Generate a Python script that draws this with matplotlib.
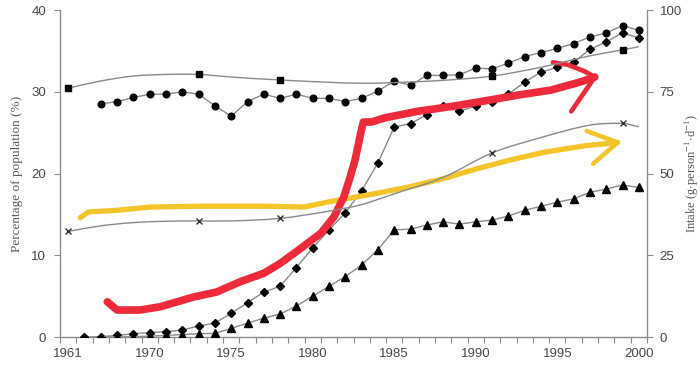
import numpy as np
import matplotlib
matplotlib.use("Agg")
import matplotlib.pyplot as plt
from matplotlib.path import Path
from matplotlib.patches import PathPatch

plt.rcParams['font.family'] = ['Liberation Sans', 'DejaVu Sans']
plt.rcParams['mathtext.fontset'] = 'stix'

# categories on the x axis (first category 1961, then yearly from 1966)
years = [1961] + list(range(1966, 2001))
label_years = [1961, 1970, 1975, 1980, 1985, 1990, 1995, 2000]

nan = np.nan
# percentage of population (left axis)
circle_vals = [nan, nan, 28.5, 28.8, 29.3, 29.7, 29.7, 30.0, 29.7, 28.3, 27.0, 28.8,
               29.7, 29.2, 29.7, 29.2, 29.2, 28.8, 29.2, 30.1, 31.3, 30.8, 32.0, 32.0,
               32.1, 32.9, 32.8, 33.5, 34.3, 34.8, 35.3, 35.9, 36.7, 37.2, 38.1, 37.5]
diamond_vals = [nan, 0.0, 0.05, 0.2, 0.4, 0.55, 0.65, 0.85, 1.35, 1.7, 2.9, 4.2,
                5.5, 6.2, 8.5, 10.9, 13.1, 15.2, 17.9, 21.3, 25.7, 26.1, 27.2, 28.2,
                27.6, 28.3, 28.8, 29.7, 31.2, 32.4, 33.0, 33.6, 35.2, 36.1, 37.2, 36.6]
triangle_vals = [nan, nan, 0.0, 0.0, 0.05, 0.1, 0.2, 0.3, 0.4, 0.45, 1.05, 1.7,
                 2.3, 2.8, 3.8, 5.0, 6.2, 7.4, 8.8, 10.7, 13.1, 13.2, 13.7, 14.1,
                 13.8, 14.1, 14.3, 14.8, 15.5, 16.0, 16.5, 16.9, 17.7, 18.1, 18.6, 18.3]

# intake (right axis), smoothed lines read at these years
intake_years = [1961, 1967, 1969, 1971, 1973, 1975, 1978, 1981, 1983, 1985, 1988,
                1991, 1994, 1997, 1999, 2000]
square_vals = [76.1, 78.3, 79.8, 80.3, 80.3, 79.5, 78.6, 77.9, 77.6, 77.8, 78.5,
               79.8, 82.5, 86.0, 87.8, 88.8]
cross_vals = [32.3, 34.0, 35.0, 35.4, 35.5, 35.5, 36.3, 38.5, 40.5, 43.8, 48.8,
              56.3, 61.0, 64.8, 65.3, 64.3]
survey_years = [1961, 1973, 1978, 1991, 1999]

# hand-drawn annotations (x in category index, y in left-axis units)
red_x = [2.4, 3.0, 4.4, 5.65, 7.7, 9.1, 10.6, 12.0, 13.0, 14.1, 15.5, 16.3, 16.9,
         17.3, 17.6, 17.95, 18.1, 18.6, 19.4, 21.4, 23.5, 25.9, 27.6, 29.6, 31.5, 32.3]
red_y = [4.3, 3.3, 3.3, 3.7, 4.9, 5.5, 6.8, 7.8, 9.0, 10.6, 12.7, 14.7, 17.1,
         19.6, 21.7, 25.0, 26.3, 26.3, 26.8, 27.6, 28.2, 29.0, 29.6, 30.2, 31.25, 31.8]
red_head_x = [29.73, 30.65, 31.67, 32.3, 30.85]
red_head_y = [33.6, 33.3, 32.5, 31.8, 27.6]
yellow_x = [0.74, 1.25, 3.0, 5.05, 8.1, 12.2, 14.45, 15.9, 17.3, 19.0, 21.0, 23.05,
            25.1, 27.2, 29.2, 31.7, 33.7]
yellow_y = [14.6, 15.3, 15.5, 15.9, 16.0, 16.0, 15.9, 16.5, 17.0, 17.6, 18.4, 19.4,
            20.6, 21.7, 22.6, 23.4, 23.8]
yellow_head_x = [31.8, 33.7, 32.2]
yellow_head_y = [25.2, 23.8, 21.2]

pos = np.arange(len(years))
line_col = '#8a8a8a'
axis_col = '#8c8c8c'
text_col = '#474747'


def smooth_path(xs, ys):
    # cardinal spline y(x) drawn as cubic Bezier segments
    xs = np.asarray(xs, float)
    ys = np.asarray(ys, float)
    n = len(xs)
    d = np.empty(n)
    d[0] = (ys[1] - ys[0]) / (xs[1] - xs[0])
    d[-1] = (ys[-1] - ys[-2]) / (xs[-1] - xs[-2])
    d[1:-1] = (ys[2:] - ys[:-2]) / (xs[2:] - xs[:-2])
    verts = [(xs[0], ys[0])]
    codes = [Path.MOVETO]
    for i in range(n - 1):
        h = (xs[i + 1] - xs[i]) / 3.0
        verts += [(xs[i] + h, ys[i] + d[i] * h),
                  (xs[i + 1] - h, ys[i + 1] - d[i + 1] * h),
                  (xs[i + 1], ys[i + 1])]
        codes += [Path.CURVE4] * 3
    return Path(verts, codes)


fig = plt.figure(figsize=(7.0, 3.67), dpi=100)
ax = fig.add_axes([0.0857, 0.0817, 0.8386, 0.891])
ax2 = ax.twinx()

ax.plot(pos, circle_vals, color=line_col, lw=1.0, marker='o', ms=4.8,
        mfc='black', mec='black', zorder=3)
ax.plot(pos, diamond_vals, color=line_col, lw=1.0, marker='D', ms=4.0,
        mfc='black', mec='black', zorder=3)
ax.plot(pos, triangle_vals, color=line_col, lw=1.0, marker='^', ms=5.2,
        mfc='black', mec='black', zorder=3)

ix = [years.index(y) for y in intake_years]
mark = [intake_years.index(y) for y in survey_years]
for vals, mk in [(square_vals, 's'), (cross_vals, 'x')]:
    ax2.add_patch(PathPatch(smooth_path(ix, vals), fill=False, ec=line_col, lw=1.0,
                            zorder=3))
    ax2.plot([ix[i] for i in mark], [vals[i] for i in mark], ls='none', marker=mk,
             ms=5.0, mfc='black', mec='#333333' if mk == 'x' else 'black', mew=1.0,
             zorder=4)

red = '#ee2a3b'
yellow = '#f5c32a'
ax.plot(yellow_x, yellow_y, color=yellow, lw=3.8, solid_capstyle='round',
        solid_joinstyle='round', zorder=5)
ax.plot(yellow_head_x, yellow_head_y, color=yellow, lw=3.2, solid_capstyle='round',
        solid_joinstyle='round', zorder=5)
ax.plot(red_x, red_y, color=red, lw=5.5, solid_capstyle='round',
        solid_joinstyle='round', zorder=6)
ax.plot(red_head_x, red_head_y, color=red, lw=3.4, solid_capstyle='round',
        solid_joinstyle='round', zorder=6)

ax.set_xlim(-0.5, len(years) - 0.5)
ax.set_ylim(0, 40)
ax2.set_ylim(0, 100)
ax.set_yticks([0, 10, 20, 30, 40])
ax2.set_yticks([0, 25, 50, 75, 100])

ax.set_xticks([years.index(y) for y in label_years])
ax.set_xticklabels([str(y) for y in label_years])
ax.set_xticks(np.arange(-0.5, len(years), 1.0), minor=True)
ax.tick_params(axis='x', which='major', length=0, pad=8, labelsize=9.5,
               labelcolor=text_col)
ax.tick_params(axis='x', which='minor', length=4, width=0.8, color=axis_col,
               direction='out')
ax.tick_params(axis='y', length=4, width=0.8, color=axis_col, labelsize=9.5,
               labelcolor=text_col, pad=6)
ax2.tick_params(axis='y', length=4, width=0.8, color=axis_col, labelsize=9.5,
                labelcolor=text_col, pad=5)

for a in (ax, ax2):
    a.spines['top'].set_visible(False)
    for s in ('left', 'right', 'bottom'):
        a.spines[s].set_color(axis_col)
        a.spines[s].set_linewidth(1.0)
ax.spines['right'].set_visible(False)
ax2.spines['left'].set_visible(False)
ax2.spines['bottom'].set_visible(False)

ax.set_ylabel('Percentage of population (%)', family='Liberation Serif',
              fontsize=9.5, color='#5a5a5a', labelpad=6)
ax2.set_ylabel('Intake (g$\\cdot$person$^{-1}$$\\cdot$d$^{-1}$)', family='Liberation Serif',
               fontsize=9, color='#5a5a5a', labelpad=1)

fig.savefig('out.png', dpi=100)
